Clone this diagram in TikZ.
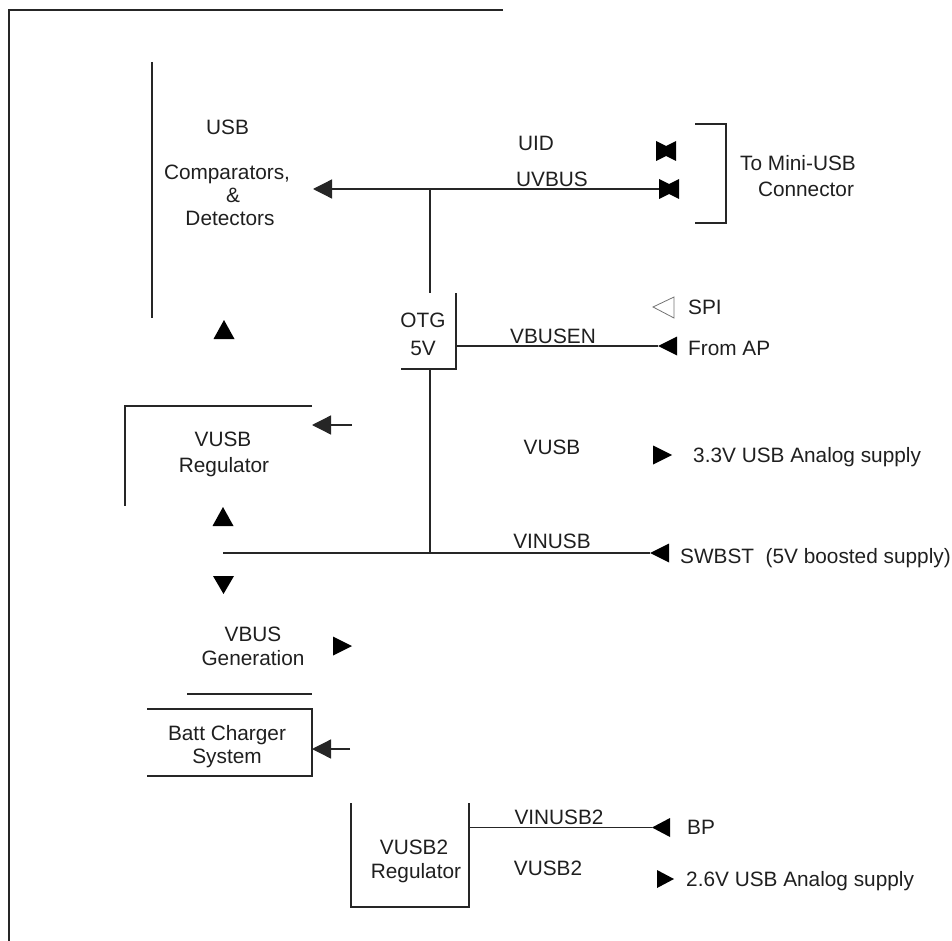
\documentclass[tikz,border=0pt]{standalone}
\usepackage{fontspec}
\setmainfont{Liberation Sans}
\usetikzlibrary{arrows.meta}
\tikzset{
  lbl/.style={font=\fontsize{20.8}{25}\selectfont, inner sep=0pt, text height=14.9pt, text depth=0pt, text=black!88},
  wire/.style={line width=1.3pt, draw=black!85},
  arr/.style={wire, -{Triangle[length=19pt,width=19pt]}},
  solidtip/.style={fill=black},
}
\newcommand\tipL[1]{\fill[solidtip] #1 -- ++(19,-9.5) -- ++(0,19) -- cycle;}
\newcommand\tipR[1]{\fill[solidtip] #1 -- ++(-19,-9.5) -- ++(0,19) -- cycle;}
\newcommand\tipU[1]{\fill[solidtip] #1 -- ++(-10.5,19) -- ++(21,0) -- cycle;}
\newcommand\tipD[1]{\fill[solidtip] #1 -- ++(-10.5,-18) -- ++(21,0) -- cycle;}
\newcommand\bowmark[1]{\fill[solidtip] #1 ++(-10,-10) -- ++(10,5) -- ++(10,-5) -- ++(0,20) -- ++(-10,-5) -- ++(-10,5) -- cycle;}
\begin{document}
\begin{tikzpicture}[x=1pt,y=-1pt]
\useasboundingbox (0,0) rectangle (952,941);
% outer frame
\coordinate (fTR) at (503,10);
\coordinate (fTL) at (9,10);
\coordinate (fBL) at (9,941);
\draw[wire] (fTR) -- (fTL) -- (fBL);

% USB comparators block
\coordinate (usbT) at (152,62);
\coordinate (usbB) at (152,318);
\draw[wire] (usbT) -- (usbB);
\node[lbl] (tusb) at (227.5,127) {USB};
\node[lbl] (tcomp) at (227,172) {Comparators,};
\node[lbl] (tamp) at (233,195) {\&};
\node[lbl] (tdet) at (230,218) {Detectors};

% UVBUS line
\coordinate (usbin) at (313,189);
\coordinate (bw2) at (659,189);
\coordinate (jn1) at (430,189);
\draw[arr] (bw2) -- (usbin);
\bowmark{(666,151)}
\bowmark{(669,189)}
\node[lbl] (tuid) at (536,143) {UID};
\node[lbl] (tuvbus) at (552,179) {UVBUS};

% bracket to connector
\coordinate (brA) at (695,124);
\coordinate (brB) at (726,124);
\coordinate (brC) at (726,223);
\coordinate (brD) at (695,223);
\draw[wire] (brA) -- (brB) -- (brC) -- (brD);
\node[lbl] (tmini) at (798,163) {To Mini-USB};
\node[lbl] (tconn) at (806,189) {Connector};

% OTG block
\coordinate (otgT) at (430,293);
\coordinate (otgRT) at (456,293);
\coordinate (otgRB) at (456,369);
\coordinate (otgBL) at (401,369);
\coordinate (otgE) at (456,346);
\coordinate (otgB) at (430,369);
\draw[wire] (jn1) -- (otgT);
\draw[wire] (otgRT) -- (otgRB) -- (otgBL);
\node[lbl] (totg) at (423,320) {OTG};
\node[lbl] (t5v) at (423,348) {5V};

% SPI / VBUSEN
\draw[draw=black!55, line width=0.8pt] (653,307) -- (674,297) -- (674,318) -- cycle;
\node[lbl, anchor=west] (tspi) at (688,307) {SPI};
\coordinate (apTip) at (658,346);
\draw[wire] (otgE) -- (apTip);
\tipL{(apTip)}
\node[lbl] (tvbusen) at (553,336) {VBUSEN};
\node[lbl, anchor=west] (tap) at (688,348) {From AP};

% up triangle between USB and VUSB
\tipU{(224,320)}

% VUSB regulator
\coordinate (vrA) at (312,406);
\coordinate (vrB) at (125,406);
\coordinate (vrC) at (125,506);
\draw[wire] (vrA) -- (vrB) -- (vrC);
\node[lbl] (tvusbr) at (223,439) {VUSB};
\node[lbl] (tregr) at (224,465) {Regulator};
\coordinate (vrIn) at (312,425);
\coordinate (vrFrom) at (352,425);
\draw[arr] (vrFrom) -- (vrIn);
\node[lbl] (tvusb) at (552,447) {VUSB};
\tipR{(672,455)}
\node[lbl, anchor=west] (t33) at (693,455) {3.3V USB Analog supply};

% VINUSB line
\coordinate (vinL) at (223,553);
\coordinate (jn2) at (430,553);
\coordinate (swTip) at (650,553);
\draw[wire] (otgB) -- (jn2);
\draw[wire] (vinL) -- (swTip);
\tipL{(swTip)}
\node[lbl] (tvinusb) at (552,541) {VINUSB};
\node[lbl, anchor=west] (tsw) at (680,556) {SWBST\ \ (5V boosted supply)};
\tipU{(223,507)}
\tipD{(223.5,594)}

% VBUS generation
\node[lbl] (tvbus) at (253,634) {VBUS};
\node[lbl] (tgen) at (253,658) {Generation};
\tipR{(352,646)}
\coordinate (gA) at (187,694);
\coordinate (gB) at (312,694);
\draw[wire] (gA) -- (gB);

% Batt charger
\coordinate (bA) at (147,709);
\coordinate (bB) at (312,709);
\coordinate (bC) at (312,776);
\coordinate (bD) at (147,776);
\draw[wire] (bA) -- (bB) -- (bC) -- (bD);
\node[lbl] (tbatt) at (227,733) {Batt Charger};
\node[lbl] (tsys) at (227,756) {System};
\coordinate (bIn) at (312,749);
\coordinate (bFrom) at (350,749);
\draw[arr] (bFrom) -- (bIn);

% VUSB2 regulator
\coordinate (v2A) at (351,803);
\coordinate (v2B) at (351,907);
\coordinate (v2C) at (469,907);
\coordinate (v2D) at (469,803);
\draw[wire] (v2A) -- (v2B) -- (v2C) -- (v2D);
\node[lbl] (tvusb2r) at (414,847) {VUSB2};
\node[lbl] (treg2) at (416,871) {Regulator};
\coordinate (v2E) at (469,827.5);
\coordinate (bpTip) at (652,827.5);
\draw[wire] (v2E) -- (bpTip);
\fill[solidtip] (bpTip) -- ++(18,-9.5) -- ++(0,19) -- cycle;
\node[lbl] (tvin2) at (559,817) {VINUSB2};
\node[lbl, anchor=west] (tbp) at (687,827) {BP};
\node[lbl] (tvusb2) at (548,868) {VUSB2};
\fill[solidtip] (674,879) -- ++(-17,-9) -- ++(0,18) -- cycle;
\node[lbl, anchor=west] (t26) at (686,879) {2.6V USB Analog supply};
\end{tikzpicture}
\end{document}
